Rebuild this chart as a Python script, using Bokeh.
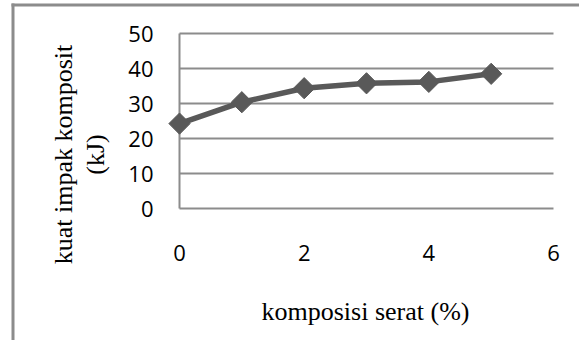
import numpy as np
from bokeh.plotting import figure
from bokeh.models import FixedTicker, Label, Range1d, BoxAnnotation, Grid
from bokeh.core.properties import value
from bokeh.embed import file_html
from bokeh.resources import INLINE

# data
komposisi = [0, 1, 2, 3, 4, 5]
kuat_impak = [24.3, 30.4, 34.4, 35.8, 36.2, 38.5]
x_ticks = [0, 2, 4, 6]
y_ticks = [0, 10, 20, 30, 40, 50]
x_tick_labels = [str(v) for v in x_ticks]
y_tick_labels = [str(v) for v in y_ticks]
x_title = "komposisi serat (%)"
y_title_1 = "kuat impak komposit"
y_title_2 = "(kJ)"

GRID = "#8c8c8c"
LINE = "#595959"

# layout (page pixels)
O = 1                 # canvas origin on the page
W, H = 579, 340
PX0, PX1 = 180, 554   # plot area left/right (x=0 .. x=6)
PY0, PY1 = 209.3, 34  # plot area bottom/top (y=0 .. y=50)
sx = (PX1 - PX0) / (x_ticks[-1] - x_ticks[0])
sy = (PY0 - PY1) / (y_ticks[-1] - y_ticks[0])


def dx(px):
    return x_ticks[0] + (px - PX0) / sx


def dy(py):
    return y_ticks[0] + (PY0 - py) / sy


x_range = Range1d(dx(O), dx(O + W))
y_range = Range1d(dy(O + H), dy(O))

p = figure(width=W, height=H, output_backend="svg", toolbar_location=None,
           x_range=x_range, y_range=y_range,
           x_axis_type=None, y_axis_type=None,
           min_border=0, background_fill_color="white", border_fill_color="white")
p.outline_line_color = None

# horizontal gridlines and vertical axis line
p.add_layout(Grid(dimension=1, ticker=FixedTicker(ticks=y_ticks),
                  cross_bounds=(x_ticks[0], x_ticks[-1]),
                  grid_line_color=GRID, grid_line_width=2))
p.add_layout(Grid(dimension=0, ticker=FixedTicker(ticks=[x_ticks[0]]),
                  cross_bounds=(y_ticks[0], y_ticks[-1]),
                  grid_line_color=GRID, grid_line_width=2))

# tick labels
p.text(x=[x_ticks[0]] * len(y_ticks), y=y_ticks, text=y_tick_labels,
       x_offset=-26, text_align="right", text_baseline="middle",
       text_font=value("Open Sans"), text_font_size=value("22px"), text_color="black")
p.text(x=x_ticks, y=[y_ticks[0]] * len(x_ticks), text=x_tick_labels,
       y_offset=44, text_align="center", text_baseline="middle",
       text_font=value("Open Sans"), text_font_size=value("22px"), text_color="black")

# series
p.line(komposisi, kuat_impak, line_color=LINE, line_width=5.5)
p.scatter(komposisi, kuat_impak, marker="square", angle=np.pi / 4, size=15,
          fill_color=LINE, line_color=LINE)

# outer chart border (left and top)
p.add_layout(BoxAnnotation(left=dx(12), right=dx(15), top=dy(4), bottom=dy(O + H),
                           fill_color=GRID, fill_alpha=1, line_color=None))
p.add_layout(BoxAnnotation(left=dx(12), right=dx(O + W), top=dy(4), bottom=dy(7),
                           fill_color=GRID, fill_alpha=1, line_color=None))

# axis titles
for txt, cx in ((y_title_1, 64), (y_title_2, 96)):
    p.add_layout(Label(x=cx - O, y=155 - O, x_units="canvas", y_units="canvas", text=txt,
                       angle=np.pi / 2, text_align="center", text_baseline="middle",
                       text_font="Liberation Serif", text_font_size="26px",
                       text_color="black"))
p.add_layout(Label(x=366 - O, y=312 - O, x_units="canvas", y_units="canvas", text=x_title,
                   text_align="center", text_baseline="middle",
                   text_font="Liberation Serif", text_font_size="26px",
                   text_color="black"))

open("out.html", "w").write(file_html(p, INLINE))
